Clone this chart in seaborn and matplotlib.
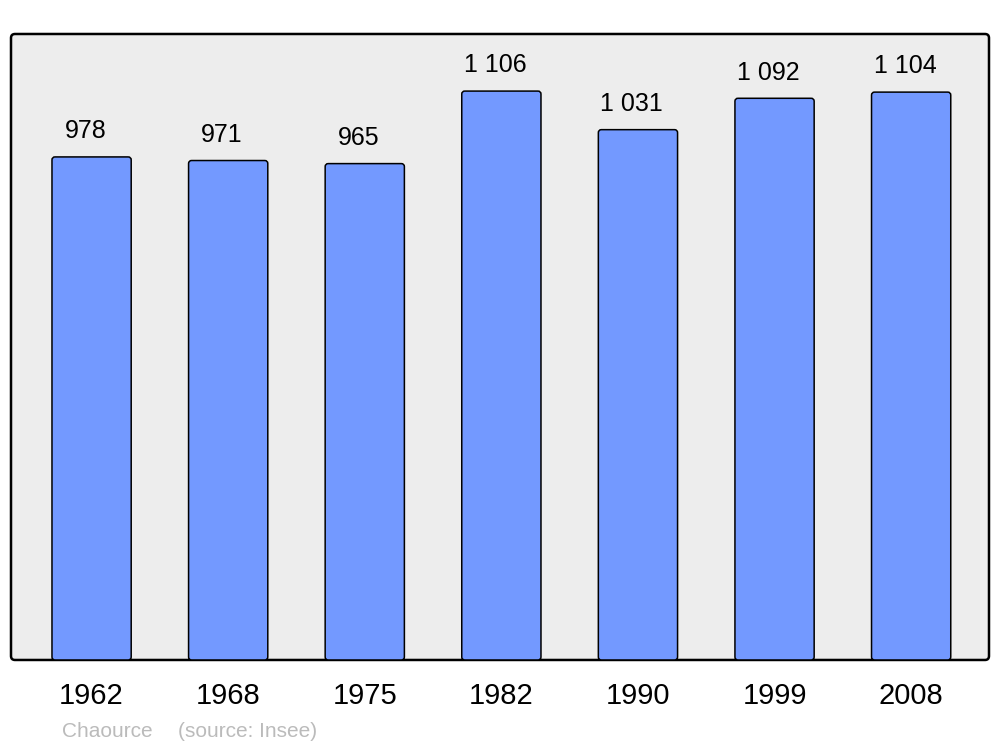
import matplotlib
matplotlib.use("Agg")
import matplotlib.pyplot as plt
import seaborn as sns
import pandas as pd
from matplotlib.patches import FancyBboxPatch
from matplotlib.transforms import offset_copy

years = ["1962", "1968", "1975", "1982", "1990", "1999", "2008"]
population = [978, 971, 965, 1106, 1031, 1092, 1104]
value_labels = ["978", "971", "965", "1 106", "1 031", "1 092", "1 104"]
commune = "Chaource"
source = "(source: Insee)"

sns.set_theme(style="white")
plt.rcParams['font.family'] = ['Liberation Sans', 'DejaVu Sans']

df = pd.DataFrame({"year": years, "pop": population})

fig = plt.figure(figsize=(10, 7.47), dpi=100)
ax = fig.add_axes([0.011, 0.1165, 0.978, 0.838])
ax.set_facecolor("none")

# rounded frame with grey background
frame = FancyBboxPatch((0, 0), 1, 1,
                       boxstyle="round,pad=0,rounding_size=%f" % (4 / 978),
                       mutation_aspect=978 / 626,
                       facecolor="#EDEDED", edgecolor="black", linewidth=1.8,
                       transform=ax.transAxes, zorder=0, clip_on=False)
ax.add_patch(frame)

sns.barplot(data=df, x="year", y="pop", color="#7399FF", saturation=1,
            width=0.58, edgecolor="black", linewidth=1.1, ax=ax)

ax.set_xlim(-0.59, 6.57)
ax.set_ylim(0, 1217)

# replace bars with slightly rounded ones
x_per_px = 7.16 / 978
y_per_px = 1217 / 626
patches = [p for p in ax.patches if p is not frame]
for p in patches:
    x, y = p.get_x(), p.get_y()
    w, h = p.get_width(), p.get_height()
    fb = FancyBboxPatch((x, y), w, h,
                        boxstyle="round,pad=0,rounding_size=%f" % (3 * x_per_px),
                        mutation_aspect=y_per_px / x_per_px,
                        facecolor="#7399FF", edgecolor="black", linewidth=1.1,
                        zorder=2)
    p.remove()
    ax.add_patch(fb)

for i, (v, lab) in enumerate(zip(population, value_labels)):
    ax.annotate(lab, (i, v), xytext=(-4.5, 18.5), textcoords="offset points",
                ha="center", va="center", fontsize=18, color="black")

ax.set_xlabel("")
ax.set_ylabel("")
ax.set_yticks([])
ax.tick_params(axis="x", length=0, pad=16, labelsize=21, colors="black")
for s in ax.spines.values():
    s.set_visible(False)

fig.text(0.062, 0.008, commune, fontsize=15, color="#BBBBBB", ha="left", va="bottom")
fig.text(0.178, 0.008, source, fontsize=15, color="#BBBBBB", ha="left", va="bottom")

fig.savefig("out.png", dpi=100)
